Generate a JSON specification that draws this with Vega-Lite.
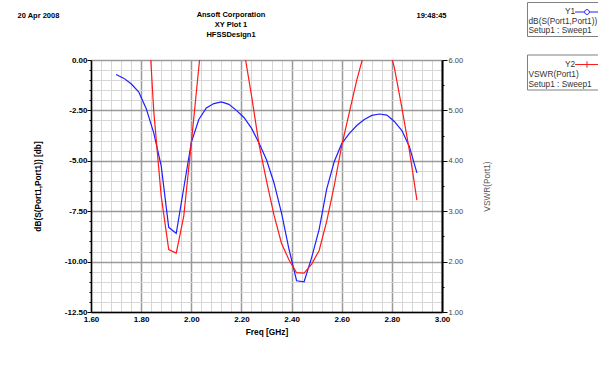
{
  "$schema": "https://vega.github.io/schema/vega-lite/v6.json",
  "width": 351,
  "height": 252,
  "autosize": {"type": "none"},
  "padding": {"left": 91, "top": 60, "right": 156, "bottom": 54},
  "background": "white",
  "config": {"view": {"stroke": null}, "font": "Liberation Sans"},
  "title": {
    "text": ["Ansoft Corporation", "XY Plot 1", "HFSSDesign1"],
    "anchor": "middle",
    "frame": "group",
    "dx": -35.5,
    "offset": -37,
    "fontSize": 7.5,
    "fontWeight": "bold",
    "lineHeight": 10,
    "color": "black"
  },
  "data": {
    "values": [
      {"f": 1.70, "s11": -0.72, "vswr": 24.2},
      {"f": 1.73, "s11": -0.90, "vswr": 19.3},
      {"f": 1.76, "s11": -1.18, "vswr": 14.8},
      {"f": 1.79, "s11": -1.58, "vswr": 11.0},
      {"f": 1.82, "s11": -2.40, "vswr": 7.6},
      {"f": 1.85, "s11": -3.60, "vswr": 5.0},
      {"f": 1.88, "s11": -5.25, "vswr": 3.3},
      {"f": 1.91, "s11": -8.30, "vswr": 2.24},
      {"f": 1.94, "s11": -8.60, "vswr": 2.17},
      {"f": 1.97, "s11": -6.35, "vswr": 2.9},
      {"f": 2.00, "s11": -4.10, "vswr": 4.35},
      {"f": 2.03, "s11": -2.95, "vswr": 5.85},
      {"f": 2.06, "s11": -2.38, "vswr": 7.4},
      {"f": 2.09, "s11": -2.16, "vswr": 8.1},
      {"f": 2.12, "s11": -2.08, "vswr": 8.4},
      {"f": 2.15, "s11": -2.20, "vswr": 7.9},
      {"f": 2.18, "s11": -2.50, "vswr": 7.0},
      {"f": 2.21, "s11": -2.85, "vswr": 6.2},
      {"f": 2.24, "s11": -3.38, "vswr": 5.3},
      {"f": 2.27, "s11": -4.12, "vswr": 4.33},
      {"f": 2.30, "s11": -4.95, "vswr": 3.6},
      {"f": 2.33, "s11": -6.10, "vswr": 2.92},
      {"f": 2.36, "s11": -7.60, "vswr": 2.36},
      {"f": 2.39, "s11": -9.40, "vswr": 2.03},
      {"f": 2.42, "s11": -10.95, "vswr": 1.78},
      {"f": 2.45, "s11": -11.00, "vswr": 1.77},
      {"f": 2.48, "s11": -9.80, "vswr": 1.95},
      {"f": 2.51, "s11": -8.40, "vswr": 2.22},
      {"f": 2.54, "s11": -6.40, "vswr": 2.8},
      {"f": 2.57, "s11": -5.05, "vswr": 3.5},
      {"f": 2.60, "s11": -4.15, "vswr": 4.3},
      {"f": 2.63, "s11": -3.65, "vswr": 4.95},
      {"f": 2.66, "s11": -3.25, "vswr": 5.6},
      {"f": 2.69, "s11": -2.95, "vswr": 6.15},
      {"f": 2.72, "s11": -2.75, "vswr": 6.45},
      {"f": 2.75, "s11": -2.68, "vswr": 6.55},
      {"f": 2.78, "s11": -2.73, "vswr": 6.4},
      {"f": 2.81, "s11": -3.05, "vswr": 5.85},
      {"f": 2.84, "s11": -3.50, "vswr": 5.05},
      {"f": 2.87, "s11": -4.30, "vswr": 4.2},
      {"f": 2.90, "s11": -5.60, "vswr": 3.22}
    ]
  },
  "layer": [
    {
      "mark": {"type": "line", "strokeWidth": 1.2, "clip": true},
      "encoding": {
        "x": {
          "field": "f", "type": "quantitative",
          "scale": {"domain": [1.6, 3.0], "nice": false, "zero": false},
          "axis": {
            "orient": "bottom",
            "values": [1.6,1.64,1.68,1.72,1.76,1.8,1.84,1.88,1.92,1.96,2,2.04,2.08,2.12,2.16,2.2,2.24,2.28,2.32,2.36,2.4,2.44,2.48,2.52,2.56,2.6,2.64,2.68,2.72,2.76,2.8,2.84,2.88,2.92,2.96,3],
            "labelExpr": "abs(datum.value*5-round(datum.value*5))<0.001 ? format(datum.value,'.2f') : ''",
            "labelOverlap": false,
            "labelFlush": false,
            "labelFontSize": 8,
            "labelFontWeight": "bold",
            "labelColor": "black",
            "labelPadding": 3,
            "ticks": false,
            "domainColor": "black",
            "domainWidth": 1.5,
            "grid": true,
            "gridColor": {"condition": {"test": "abs(datum.value*5-round(datum.value*5))<0.001", "value": "#9a9a9a"}, "value": "#d6d6d6"},
            "gridWidth": {"condition": {"test": "abs(datum.value*5-round(datum.value*5))<0.001", "value": 1.5}, "value": 1},
            "title": "Freq [GHz]",
            "titleFontSize": 8.3,
            "titleFontWeight": "bold",
            "titleColor": "black",
            "titlePadding": 4
          }
        },
        "y": {
          "field": "s11", "type": "quantitative",
          "scale": {"domain": [-12.5, 0], "nice": false, "zero": false},
          "axis": {
            "orient": "left",
            "values": [-12.5,-12,-11.5,-11,-10.5,-10,-9.5,-9,-8.5,-8,-7.5,-7,-6.5,-6,-5.5,-5,-4.5,-4,-3.5,-3,-2.5,-2,-1.5,-1,-0.5,0],
            "labelExpr": "datum.value % 2.5 === 0 ? (datum.value < 0 ? '-' + format(-datum.value,'.2f') : format(datum.value,'.2f')) : ''",
            "labelOverlap": false,
            "labelFontSize": 8,
            "labelFontWeight": "bold",
            "labelColor": "black",
            "labelPadding": 0,
            "tickColor": "black",
            "tickSize": {"condition": {"test": "datum.value % 2.5 === 0", "value": 4}, "value": 2},
            "domainColor": "black",
            "domainWidth": 1.5,
            "grid": true,
            "gridColor": {"condition": {"test": "datum.value % 2.5 === 0", "value": "#9a9a9a"}, "value": "#d6d6d6"},
            "gridWidth": {"condition": {"test": "datum.value % 2.5 === 0", "value": 1.5}, "value": 1},
            "title": "dB(S(Port1,Port1)) [db]",
            "titleX": -53,
            "titleY": 126,
            "titleAngle": 270,
            "titleAlign": "center",
            "titleBaseline": "middle",
            "titleFontSize": 8.3,
            "titleFontWeight": "bold",
            "titleColor": "black"
          }
        },
        "color": {
          "datum": "Y1", "type": "nominal",
          "scale": {"range": ["#1f1fff"]},
          "legend": {
            "orient": "none",
            "legendX": 436,
            "legendY": -58,
            "title": ["dB(S(Port1,Port1))", "Setup1 : Sweep1"],
            "titleOrient": "bottom",
            "titleFontWeight": "normal",
            "titleFontSize": 8.3,
            "titleColor": "#333333",
            "titleLineHeight": 9.5,
            "titlePadding": 0,
            "titleLimit": 300,
            "labelFontSize": 8.3,
            "labelColor": "#333333",
            "labelOffset": -30.5,
            "symbolType": "M-1.5,0L-0.3,0M0.3,0L1.5,0M-0.3,0A0.3,0.3,0,1,1,0.3,0A0.3,0.3,0,1,1,-0.3,0",
            "symbolSize": 256,
            "symbolOffset": 50,
            "symbolStrokeColor": "#6a6aff",
            "symbolFillColor": "white",
            "symbolStrokeWidth": 1,
            "strokeColor": "#808080",
            "padding": 1.5
          }
        }
      }
    },
    {
      "mark": {"type": "line", "strokeWidth": 1.2, "clip": true},
      "encoding": {
        "x": {
          "field": "f", "type": "quantitative",
          "scale": {"domain": [1.6, 3.0], "nice": false, "zero": false},
          "axis": {
            "orient": "top",
            "labels": false,
            "ticks": false,
            "domain": false,
            "grid": false,
            "title": "19:48:45",
            "titleX": 355,
            "titleY": -45,
            "titleAlign": "right",
            "titleBaseline": "middle",
            "titleAngle": 0,
            "titleFontSize": 7.5,
            "titleFontWeight": "bold",
            "titleColor": "black"
          }
        },
        "y": {
          "field": "vswr", "type": "quantitative",
          "scale": {"domain": [1, 6], "nice": false, "zero": false},
          "axis": {
            "orient": "right",
            "values": [1,1.5,2,2.5,3,3.5,4,4.5,5,5.5,6],
            "labelExpr": "datum.value % 1 === 0 ? format(datum.value,'.2f') : ''",
            "labelOverlap": false,
            "labelFontSize": 7.5,
            "labelColor": "#444444",
            "labelPadding": 1,
            "tickColor": "black",
            "tickSize": {"condition": {"test": "datum.value % 1 === 0", "value": 5}, "value": 2},
            "domainColor": "black",
            "domainWidth": 2,
            "grid": false,
            "title": "VSWR(Port1)",
            "titleX": 45,
            "titleY": 126,
            "titleAngle": 270,
            "titleAlign": "center",
            "titleBaseline": "middle",
            "titleFontSize": 8.3,
            "titleFontWeight": "normal",
            "titleColor": "#555555"
          }
        },
        "stroke": {
          "datum": "Y2", "type": "nominal",
          "scale": {"range": ["#ff1a1a"]},
          "legend": {
            "orient": "none",
            "legendX": 436,
            "legendY": -5.5,
            "title": ["VSWR(Port1)", "Setup1 : Sweep1"],
            "titleOrient": "bottom",
            "titleFontWeight": "normal",
            "titleFontSize": 8.3,
            "titleColor": "#333333",
            "titleLineHeight": 9.5,
            "titlePadding": 0,
            "titleLimit": 300,
            "labelFontSize": 8.3,
            "labelColor": "#333333",
            "labelOffset": -30.5,
            "symbolType": "M-1.5,0L1.5,0M0,-0.4L0,0.4",
            "symbolSize": 256,
            "symbolOffset": 50,
            "symbolStrokeColor": "#ff5050",
            "symbolStrokeWidth": 1,
            "strokeColor": "#808080",
            "padding": 1.5
          }
        }
      }
    },
    {
      "mark": {"type": "line", "opacity": 0},
      "encoding": {
        "x": {
          "field": "f", "type": "quantitative",
          "scale": {"domain": [1.6, 3.0], "nice": false, "zero": false},
          "axis": {
            "orient": "top",
            "labels": false,
            "ticks": false,
            "domain": false,
            "grid": false,
            "title": "20 Apr 2008",
            "titleX": -74,
            "titleY": -45,
            "titleAlign": "left",
            "titleBaseline": "middle",
            "titleAngle": 0,
            "titleFontSize": 7.5,
            "titleFontWeight": "bold",
            "titleColor": "black"
          }
        },
        "y": {
          "field": "s11", "type": "quantitative",
          "scale": {"domain": [-12.5, 0], "nice": false, "zero": false},
          "axis": null
        }
      }
    }
  ],
  "resolve": {
    "scale": {"y": "independent"},
    "axis": {"x": "independent", "y": "independent"}
  }
}
